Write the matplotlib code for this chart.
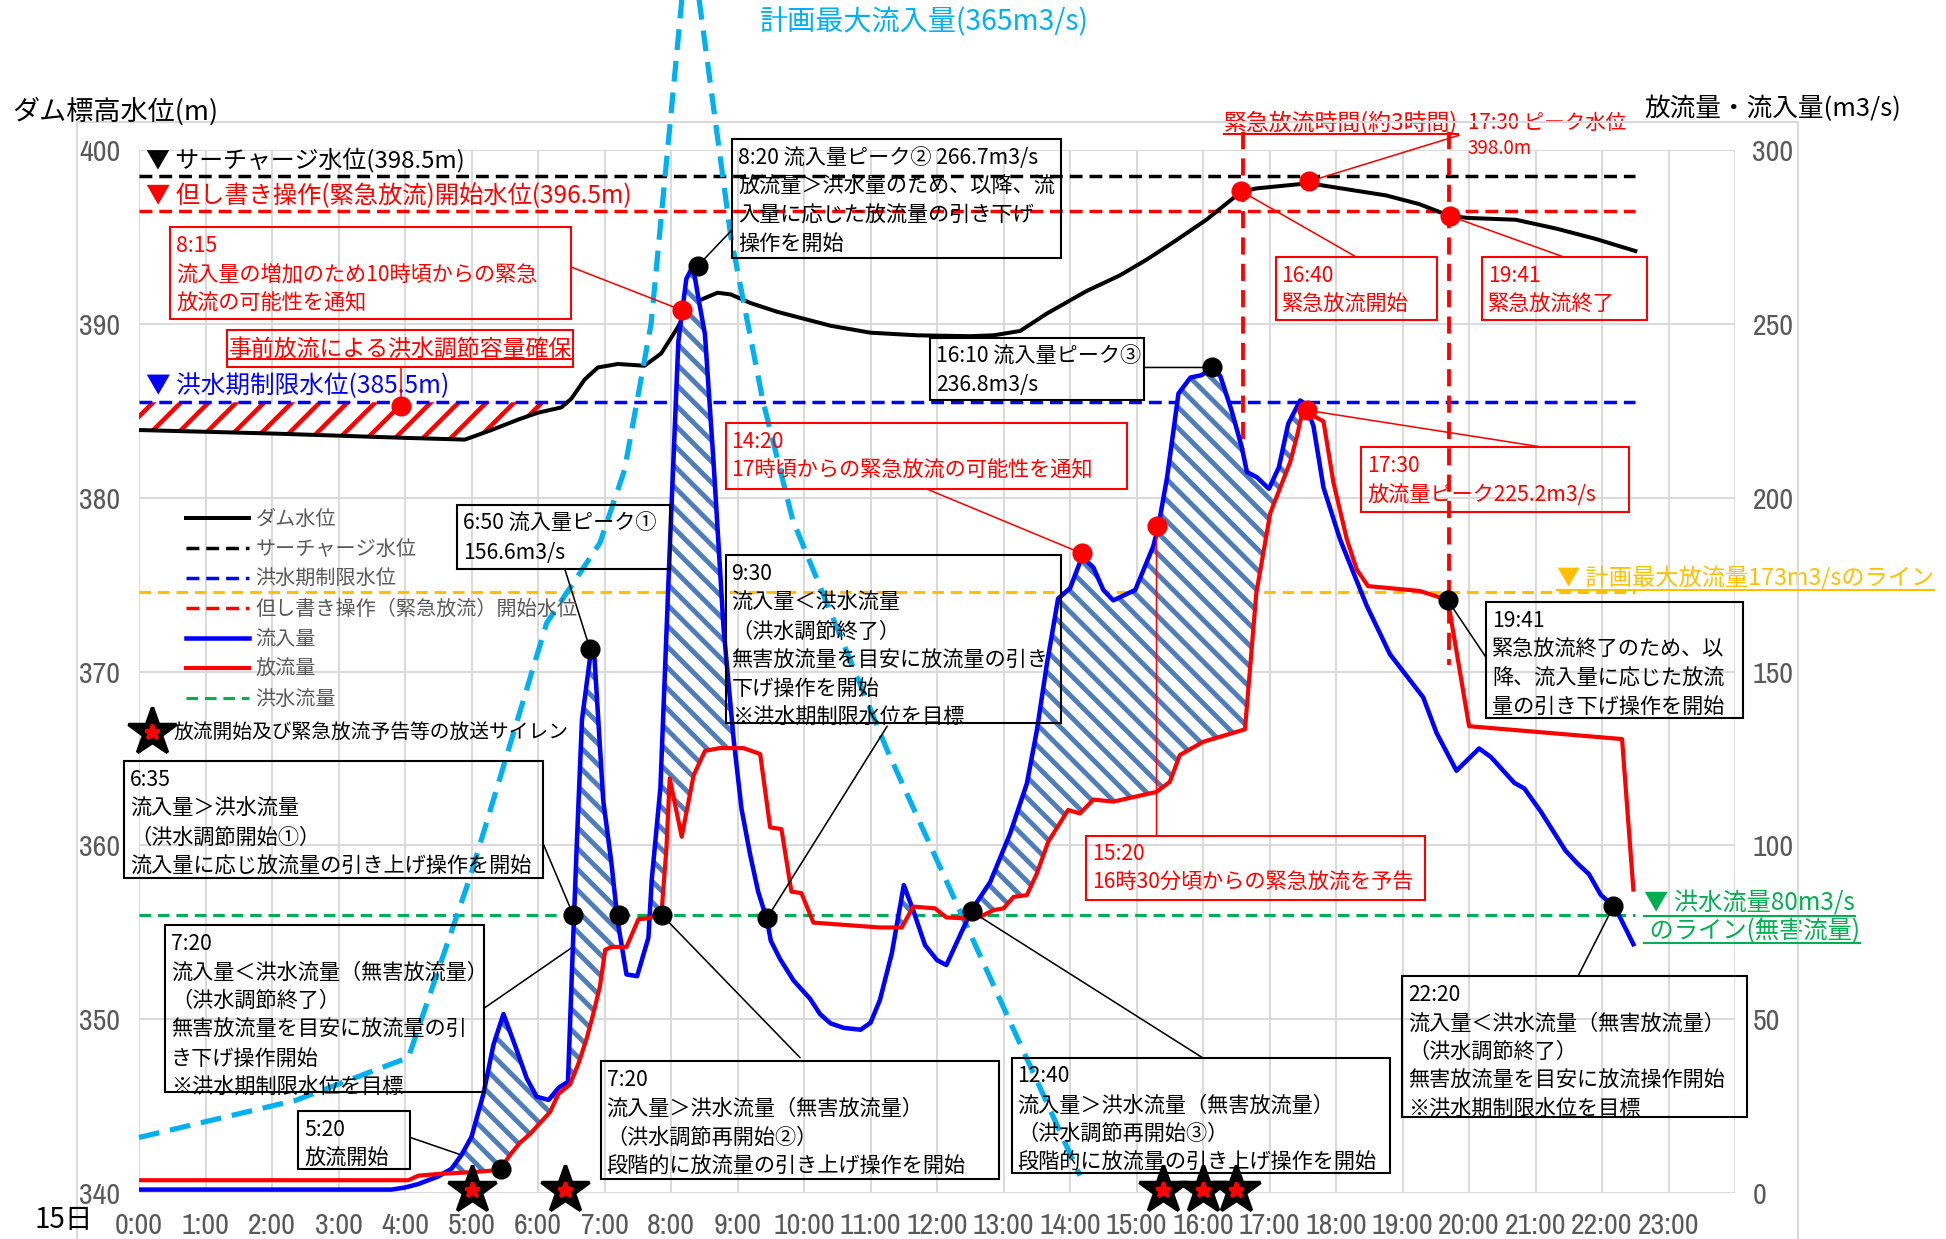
import matplotlib
matplotlib.use('Agg')
import matplotlib.pyplot as plt
import numpy as np
from matplotlib import font_manager
from matplotlib.font_manager import FontProperties
from matplotlib.lines import Line2D
from matplotlib.patches import Rectangle

plt.rcParams['font.family'] = ['Noto Sans CJK JP', 'DejaVu Sans']

# narrow font for the tick labels, if one is installed
TICK_FS = 8.6
tick_fp = None
for f in font_manager.fontManager.ttflist:
    if 'Narrow' in f.name or 'Condensed' in f.name:
        tick_fp = FontProperties(family=f.name, size=TICK_FS)
        break
if tick_fp is None:
    for f in font_manager.fontManager.ttflist:
        if f.stretch in ('condensed', 'semi-condensed'):
            tick_fp = FontProperties(family=f.name, stretch=f.stretch, size=TICK_FS - 0.6)
            break
if tick_fp is None:
    tick_fp = FontProperties(family='Liberation Sans', size=7.3)

# ---------------- data ----------------
hours = list(range(24))
hour_labels = [f'{h}:00' for h in hours]

# dam water level (m)
level_t = [0, 2.0, 4.0, 4.9, 5.3, 5.7, 6.0, 6.35, 6.5, 6.7, 6.9, 7.2, 7.6, 7.85, 8.1, 8.25,
           8.45, 8.7, 8.9, 9.2, 9.6, 10.4, 11.0, 11.7, 12.5, 12.85, 13.25, 13.65, 14.25, 14.75,
           15.15, 15.55, 16.05, 16.57, 16.8, 17.59, 18.25, 18.75, 19.25, 19.72, 20.0, 20.7,
           21.3, 21.9, 22.5]
level_m = [383.9, 383.7, 383.45, 383.35, 383.9, 384.5, 384.9, 385.2, 385.7, 386.8, 387.5, 387.7,
           387.6, 388.3, 389.8, 390.9, 391.4, 391.8, 391.7, 391.2, 390.7, 389.9, 389.5, 389.35,
           389.3, 389.35, 389.6, 390.6, 391.9, 392.8, 393.7, 394.7, 396.0, 397.6, 397.8, 398.1,
           397.7, 397.4, 396.9, 396.2, 396.1, 396.0, 395.5, 394.9, 394.2]

# inflow (m3/s)
inflow_t = [0, 3.8, 4.0, 4.2, 4.5, 4.7, 4.85, 5.0, 5.18, 5.33, 5.48, 5.65, 5.83, 5.98, 6.16,
            6.31, 6.45, 6.51, 6.58, 6.66, 6.8, 6.85, 6.98, 7.1, 7.2, 7.33, 7.49, 7.66, 7.71,
            7.84, 7.98, 8.11, 8.23, 8.33, 8.41, 8.51, 8.64, 8.79, 8.94, 9.06, 9.19, 9.31, 9.44,
            9.5, 9.64, 9.84, 10.09, 10.24, 10.4, 10.6, 10.85, 11.0, 11.14, 11.32, 11.5, 11.64,
            11.82, 12.0, 12.14, 12.52, 12.8, 13.1, 13.35, 13.5, 13.65, 13.82, 14.0, 14.18,
            14.35, 14.5, 14.65, 14.98, 15.25, 15.33, 15.46, 15.63, 15.81, 15.98, 16.13, 16.26,
            16.43, 16.58, 16.66, 16.81, 16.99, 17.14, 17.28, 17.46, 17.54, 17.66, 17.81, 18.06,
            18.46, 18.81, 19.31, 19.51, 19.81, 20.15, 20.33, 20.68, 20.83, 21.08, 21.45, 21.63,
            21.8, 21.98, 22.2, 22.47]
inflow_q = [1.0, 1.0, 1.6, 2.6, 4.8, 7.0, 11, 16.2, 28.6, 42.7, 51.5, 42.7, 33, 27.7, 26.8,
            30.3, 32, 63.8, 99, 136, 156.6, 153.6, 113, 95.5, 77.9, 62.9, 62.4, 73.5, 90.2,
            116.6, 185, 245, 263, 266.7, 257.6, 247, 210, 162.4, 130.7, 110.5, 97.3, 86.7,
            78.8, 72.6, 67.3, 61.2, 55.9, 51.5, 48.8, 47.5, 47, 49, 55.5, 69, 88.6, 81.4,
            71.3, 67, 65.6, 81.4, 89.5, 103.5, 117.8, 133, 152, 171, 174, 183,
            180, 173.5, 170.5, 173.5, 186, 192, 206, 230, 234.6, 235.3, 237.5, 235,
            225, 214.7, 207.4, 205.9, 202.6, 208.8, 221.3, 228, 227, 220.6, 203, 188,
            169, 155, 142.6, 132.4, 121.5, 127.9, 125.4, 118, 116.4, 109.7, 98.5, 94.8,
            91.8, 85.8, 82, 71.6]

# outflow (m3/s)
outflow_t = [0, 4.05, 4.2, 4.5, 5.0, 5.33, 5.45, 5.58, 5.73, 5.88, 6.05, 6.18, 6.31, 6.48, 6.61,
             6.73, 6.83, 6.93, 7.01, 7.11, 7.33, 7.51, 7.68, 7.86, 7.93, 7.98, 8.16, 8.34, 8.51,
             8.73, 9.09, 9.34, 9.49, 9.66, 9.81, 9.96, 10.14, 11.14, 11.47, 11.64, 11.97, 12.14,
             12.44, 12.65, 12.85, 13.0, 13.15, 13.35, 13.5, 13.67, 13.97, 14.15, 14.35, 14.65,
             15.3, 15.5, 15.65, 16.0, 16.63, 16.8, 17.01, 17.31, 17.41, 17.5, 17.81, 17.96,
             18.16, 18.31, 18.48, 19.26, 19.68, 20.0, 22.3, 22.47]
outflow_q = [3.7, 3.7, 5.0, 5.5, 6.0, 6.5, 7.4, 11, 14.5, 17, 20.6, 23.3, 28.6, 31.2, 37.4,
             44.4, 51.5, 59.4, 70, 70.8, 70.8, 78.8, 79.1, 81.4, 99, 119.3, 102.5, 120.2, 127.2,
             128, 128, 126.3, 105.2, 104.7, 86.7, 86.3, 77.8, 76.4, 76.4, 82.4, 81.9, 79.3,
             79, 79.5, 81.4, 81.9, 85.2, 85.7, 91.9, 101, 110.2, 109.2, 113.2, 112.6,
             115.4, 118.3, 126, 129.8, 133.4, 172.5, 195.6, 210.3, 217.6, 225.2, 222, 204.4,
             188.2, 179.4, 174.6, 173.2, 170.6, 134.3, 130.6, 87.3]

# planned design inflow hydrograph (m3/s)
plan_t = [0, 2.36, 4.05, 4.98, 6.13, 6.93, 7.3, 7.7, 8.27, 8.9, 9.38, 9.83, 11.25, 12.95, 14.15]
plan_q = [16, 26.7, 39, 91, 164, 187, 208, 250, 365, 275, 228, 193.6, 127.4, 55.5, 5]

surcharge_level = 398.5
emergency_level = 396.5
flood_season_level = 385.5
flood_flow = 80
plan_max_outflow = 173
line_end = 22.5
emergency_start, emergency_end = 16.6, 19.7

siren_t = [5.0, 6.4, 15.4, 16.0, 16.5]

black_dot_t = [5.45, 6.53, 6.78, 7.22, 7.86, 8.4, 9.44, 12.52, 16.13, 19.68, 22.17]
black_dot_q = [7.0, 80, 156.6, 80, 80, 266.7, 79, 81, 237.5, 170.5, 82.5]
red_flow_dot_t = [8.16, 14.18, 15.3, 17.56]
red_flow_dot_q = [254, 184, 192, 225.2]
red_level_dot_t = [3.94, 16.57, 17.59, 19.72]
red_level_dot_m = [385.3, 397.65, 398.2, 396.2]

# ---------------- figure ----------------
BLUE, RED, GREEN, YEL, LBLUE = '#0000FF', '#FF0000', '#00B050', '#FFC000', '#00B0F0'
GRAY = '#595959'

fig = plt.figure(figsize=(1946 / 250, 1239 / 250), dpi=250, facecolor='white')
ax = fig.add_axes([0.07143, 0.03707, 0.8202, 0.8417])
ax2 = ax.twinx()

ax.set_xlim(0, 24)
ax.set_ylim(340, 400)
ax2.set_ylim(0, 300)
ax.set_xticks(range(25))
ax.set_xticklabels(hour_labels + [''], fontproperties=tick_fp, color=GRAY)
ax.set_yticks(range(340, 401, 10))
ax.set_yticklabels([str(v) for v in range(340, 401, 10)], fontproperties=tick_fp, color=GRAY)
ax2.set_yticks(range(0, 301, 50))
ax2.set_yticklabels([str(v) for v in range(0, 301, 50)], fontproperties=tick_fp, color=GRAY)
ax.tick_params(length=0, pad=5.4)
ax2.tick_params(length=0, pad=5.0)
for a in (ax, ax2):
    for s in a.spines.values():
        s.set_visible(False)
ax.grid(True, color='#D9D9D9', lw=0.55)
ax.set_axisbelow(True)

# outer frame
for xs, ys in [([62 / 1568, 62 / 1568], [0, 1 - 98 / 998]),
               ([62 / 1568, 1449 / 1568], [1 - 98 / 998, 1 - 98 / 998]),
               ([1449 / 1568, 1449 / 1568], [0, 1 - 98 / 998])]:
    fig.add_artist(Line2D(xs, ys, color='#D9D9D9', lw=0.6, transform=fig.transFigure))

# ---- level axis ----
lv_t = np.array(level_t)
lv_m = np.array(level_m)
with plt.rc_context({'hatch.linewidth': 1.3}):
    pre = ax.fill_between(lv_t, lv_m, flood_season_level, where=lv_m < flood_season_level,
                          interpolate=True, facecolor='white', edgecolor=RED, hatch='///',
                          linewidth=0, zorder=2)
if hasattr(pre, 'set_hatch_linewidth'):
    pre.set_hatch_linewidth(1.3)

sur_line, = ax.plot([0, line_end], [surcharge_level] * 2, color='black', lw=1.0,
                    dashes=(3.7, 2.0), zorder=3)
emg_line, = ax.plot([0, line_end], [emergency_level] * 2, color=RED, lw=1.0,
                    dashes=(3.7, 2.0), zorder=3)
fld_line, = ax.plot([0, line_end], [flood_season_level] * 2, color=BLUE, lw=1.0,
                    dashes=(3.7, 2.0), zorder=3)
lvl_line, = ax.plot(level_t, level_m, color='black', lw=1.15, zorder=4)
ax.plot([emergency_start] * 2, [401.07, 382.8], color=RED, lw=1.1, dashes=(4.5, 2.4),
        clip_on=False, zorder=3)
ax.plot([emergency_end] * 2, [401.07, 370.4], color=RED, lw=1.1, dashes=(4.5, 2.4),
        clip_on=False, zorder=3)

# ---- flow axis ----
ax2.plot([0, line_end], [flood_flow] * 2, color=GREEN, lw=0.9, dashes=(3.7, 2.2), zorder=2)
grn_line = Line2D([], [], color=GREEN, lw=0.9, dashes=(3.7, 2.2))
ax2.plot([0, line_end], [plan_max_outflow] * 2, color=YEL, lw=0.9, dashes=(3.7, 2.2), zorder=2)
ax2.plot(plan_t, plan_q, color=LBLUE, lw=1.5, dashes=(4.0, 2.1), clip_on=False, zorder=2)

grid_t = np.union1d(inflow_t, outflow_t)
in_g = np.interp(grid_t, inflow_t, inflow_q)
out_g = np.interp(grid_t, outflow_t, outflow_q)
with plt.rc_context({'hatch.linewidth': 1.4}):
    hat = ax2.fill_between(grid_t, out_g, in_g, where=in_g > out_g, interpolate=True,
                           facecolor='white', edgecolor='#4F7DBA', hatch='\\\\\\\\',
                           linewidth=0, zorder=3)
if hasattr(hat, 'set_hatch_linewidth'):
    hat.set_hatch_linewidth(1.4)

in_line, = ax2.plot(inflow_t, inflow_q, color=BLUE, lw=1.3, zorder=4)
out_line, = ax2.plot(outflow_t, outflow_q, color=RED, lw=1.2, zorder=4)

# ---- leaders ----
def leader(p_box, p_dot, dot_ax, color='black', z=6):
    ax2.annotate('', xy=p_dot, xycoords=dot_ax.transData, xytext=p_box,
                 textcoords=ax.transData, annotation_clip=False, zorder=z,
                 arrowprops=dict(arrowstyle='-', color=color, lw=0.45, shrinkA=0, shrinkB=0))

leader((4.07, 343.21), (5.45, 7.0), ax2, z=2.5)
leader((6.08, 360.07), (6.53, 80), ax2)
leader((5.19, 350.64), (7.22, 80), ax2, z=2.5)
leader((6.40, 375.93), (6.78, 156.6), ax2)
leader((9.94, 347.79), (7.86, 80), ax2)
leader((8.92, 395.43), (8.40, 266.7), ax2)
leader((11.25, 366.86), (9.44, 79), ax2)
leader((15.99, 347.79), (12.52, 81), ax2)
leader((15.11, 387.5), (16.13, 237.5), ax2)
leader((20.26, 370.79), (19.68, 170.5), ax2)
leader((21.64, 352.5), (22.17, 82.5), ax2)
leader((6.49, 393.29), (8.16, 254), ax2, RED)
leader((3.94, 387.5), (3.94, 385.3), ax, RED)
leader((11.85, 380.5), (14.18, 184), ax2, RED)
leader((15.30, 360.57), (15.30, 192), ax2, RED)
leader((18.30, 393.86), (16.57, 397.65), ax, RED)
leader((19.85, 400.86), (17.59, 398.2), ax, RED)
leader((21.42, 393.86), (19.72, 396.2), ax, RED)
leader((21.08, 382.93), (17.56, 225.2), ax2, RED)

# ---- markers ----
ax2.plot(black_dot_t, black_dot_q, 'o', color='black', ms=4.8, zorder=9, clip_on=False)
ax2.plot(red_flow_dot_t, red_flow_dot_q, 'o', color=RED, ms=4.8, zorder=9)
ax2.plot(red_level_dot_t, red_level_dot_m, 'o', color=RED, ms=4.8, zorder=9,
         transform=ax.transData)
ax2.plot(siren_t, [1] * len(siren_t), '*', color='black', ms=14.5, zorder=9, clip_on=False)
ax2.plot(siren_t, [1] * len(siren_t), '*', color=RED, ms=4.5, zorder=10, clip_on=False)

# ---- boxes ----
def note(t0, t1, m_top, m_bot, text, color='black', fs=6.1, ls=1.4):
    ax2.add_patch(Rectangle((t0, m_bot), t1 - t0, m_top - m_bot, transform=ax.transData,
                            fill=False, ec=color, lw=0.6, clip_on=False, zorder=6))
    return ax2.text(t0 + 0.09, m_top - 0.45, text, transform=ax.transData, color=color,
                    fontsize=fs, linespacing=ls, va='top', ha='left', zorder=7)

note(0.47, 6.49, 395.57, 390.29, '8:15\n流入量の増加のため10時頃からの緊急\n放流の可能性を通知', RED)
ax2.add_patch(Rectangle((1.32, 387.5), 5.21, 2.14, transform=ax.transData, fill=False,
                        ec=RED, lw=0.6, zorder=6))
jizen = ax2.text(3.93, 388.57, '事前放流による洪水調節容量確保', transform=ax.transData,
                 color=RED, fontsize=6.6, ha='center', va='center', zorder=7)
note(8.92, 13.86, 400.64, 393.79,
     '8:20 流入量ピーク② 266.7m3/s\n放流量＞洪水量のため、以降、流\n入量に応じた放流量の引き下げ\n操作を開始')
note(11.9, 15.11, 389.21, 385.64, '16:10 流入量ピーク③\n236.8m3/s')
note(8.82, 14.85, 384.29, 380.5, '14:20\n17時頃からの緊急放流の可能性を通知', RED)
note(4.78, 7.99, 379.57, 375.93, '6:50 流入量ピーク①\n156.6m3/s')
note(8.82, 13.86, 376.71, 367.07,
     '9:30\n流入量＜洪水流量\n（洪水調節終了）\n無害放流量を目安に放流量の引き\n下げ操作を開始\n※洪水期制限水位を目標')
note(-0.22, 6.08, 364.86, 358.14,
     '6:35\n流入量＞洪水流量\n（洪水調節開始①）\n流入量に応じ放流量の引き上げ操作を開始')
note(0.39, 5.19, 355.43, 345.79,
     '7:20\n流入量＜洪水流量（無害放流量）\n（洪水調節終了）\n無害放流量を目安に放流量の引\nき下げ操作開始\n※洪水期制限水位を目標')
note(2.39, 4.07, 344.71, 341.36, '5:20\n放流開始')
note(6.94, 12.93, 347.57, 340.79,
     '7:20\n流入量＞洪水流量（無害放流量）\n（洪水調節再開始②）\n段階的に放流量の引き上げ操作を開始')
note(13.12, 18.81, 347.79, 341.14,
     '12:40\n流入量＞洪水流量（無害放流量）\n（洪水調節再開始③）\n段階的に放流量の引き上げ操作を開始')
note(14.24, 19.33, 360.57, 356.86, '15:20\n16時30分頃からの緊急放流を予告', RED)
note(17.09, 19.51, 393.86, 390.21, '16:40\n緊急放流開始', RED)
note(20.2, 22.67, 393.86, 390.21, '19:41\n緊急放流終了', RED)
note(18.38, 22.41, 382.93, 379.21, '17:30\n放流量ピーク225.2m3/s', RED)
note(20.26, 24.12, 374.0, 367.36,
     '19:41\n緊急放流終了のため、以\n降、流入量に応じた放流\n量の引き下げ操作を開始')
note(18.99, 24.18, 352.5, 344.36,
     '22:20\n流入量＜洪水流量（無害放流量）\n（洪水調節終了）\n無害放流量を目安に放流操作開始\n※洪水期制限水位を目標')

# ---- free labels ----
ax.text(0.11, 399.36, '▼ サーチャージ水位(398.5m)', fontsize=6.9, va='center', zorder=7)
ax.text(0.11, 397.36, '▼ 但し書き操作(緊急放流)開始水位(396.5m)', fontsize=7.0, color=RED,
        va='center', zorder=7)
ax.text(0.11, 386.43, '▼ 洪水期制限水位(385.5m)', fontsize=7.1, color=BLUE, va='center', zorder=7)
ax.text(9.33, 407.36, '計画最大流入量(365m3/s)', fontsize=8.1, color=LBLUE, va='center')
kinkyu = ax2.text(16.31, 401.57, '緊急放流時間(約3時間)', fontsize=6.6, color=RED, va='center',
                  transform=ax.transData)
ax2.text(19.98, 401.57, '17:30 ピーク水位', fontsize=5.9, color=RED, va='center',
         transform=ax.transData)
ax2.text(19.98, 400.07, '398.0m', fontsize=5.4, color=RED, va='center', transform=ax.transData)
yel_lbl = ax2.text(21.32, 375.36, '▼ 計画最大放流量173m3/sのライン', fontsize=6.7, color=YEL,
                   va='center', transform=ax.transData, zorder=7)
grn1 = ax2.text(22.63, 356.64, '▼ 洪水流量80m3/s', fontsize=7.0, color=GREEN, va='center',
                transform=ax.transData, zorder=7)
grn2 = ax2.text(22.63, 355.07, ' のライン(無害流量)', fontsize=7.0, color=GREEN, va='center',
                transform=ax.transData, zorder=7)

fig.text(10 / 1568, 1 - 90 / 998, 'ダム標高水位(m)', fontsize=7.8, va='center')
fig.text(1325 / 1568, 1 - 88 / 998, '放流量・流入量(m3/s)', fontsize=7.4, va='center')
fig.text(28 / 1568, 1 - 983 / 998, '15日', fontsize=8, va='center')

# ---- legend ----
leg = ax2.legend([lvl_line, sur_line, fld_line, emg_line, in_line, out_line, grn_line],
                 ['ダム水位', 'サーチャージ水位', '洪水期制限水位', '但し書き操作（緊急放流）開始水位',
                  '流入量', '放流量', '洪水流量'],
                 loc='upper left', bbox_to_anchor=(0.0295, 0.656), frameon=False,
                 fontsize=5.8, labelcolor=GRAY, handlelength=3.1, handletextpad=0.35,
                 labelspacing=0.45, borderpad=0, borderaxespad=0)
leg.set_zorder(8)
ax2.plot([0.19], [366.5], '*', color='black', ms=14.5, transform=ax.transData,
         clip_on=False, zorder=9)
ax2.plot([0.19], [366.5], '*', color=RED, ms=4.5, transform=ax.transData,
         clip_on=False, zorder=10)
ax2.text(0.52, 366.5, '放流開始及び緊急放流予告等の放送サイレン', fontsize=5.7,
         va='center', transform=ax.transData, zorder=7)

# ---- underlines ----
fig.canvas.draw()
rend = fig.canvas.get_renderer()
inv = fig.transFigure.inverted()
for txt, col in [(jizen, RED), (kinkyu, RED), (yel_lbl, YEL), (grn1, GREEN), (grn2, GREEN)]:
    bb = txt.get_window_extent(renderer=rend)
    (x0, y0), (x1, _) = inv.transform([(bb.x0, bb.y0 + 1), (bb.x1, bb.y0 + 1)])
    fig.add_artist(Line2D([x0, x1], [y0, y0], color=col, lw=0.6, transform=fig.transFigure))

fig.savefig('out.png', dpi=250, facecolor='white')
